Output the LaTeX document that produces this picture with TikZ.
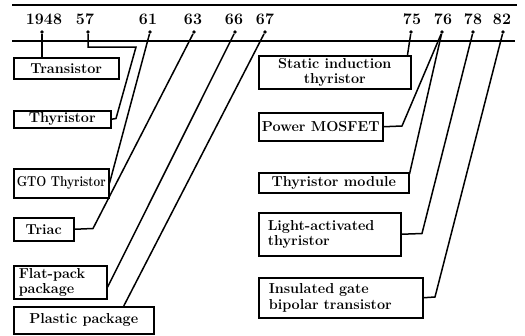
\documentclass[tikz,border=0pt]{standalone}
\usepackage{fontspec}
\usepackage{tikz}
\usetikzlibrary{positioning}

\tikzset{
	box/.style={draw, line width=1.5pt, anchor=north west, inner sep=1pt,
		font=\fontsize{14.4}{15.5}\selectfont\bfseries},
	yearlbl/.style={font=\fontsize{16}{18}\selectfont\bfseries},
	dot/.style={circle, fill, inner sep=1.3pt},
	link/.style={line width=1.5pt}
}

\begin{document}
\begin{tikzpicture}[x=1pt,y=-1pt]
	\useasboundingbox (0,0) rectangle (525,335);
	% rule at the top and time axis
	\coordinate (rl) at (12,5);
	\coordinate (rr) at (517,5);
	\coordinate (al) at (12,41);
	\coordinate (ar) at (515,41);
	\draw[link] (rl) -- (rr);
	\draw[link] (al) -- (ar);

	% years
	\node[yearlbl] (y48) at (44,19) {1948};
	\node[yearlbl] (y57) at (85,19) {57};
	\node[yearlbl] (y61) at (148,19) {61};
	\node[yearlbl] (y63) at (193,19) {63};
	\node[yearlbl] (y66) at (234,19) {66};
	\node[yearlbl] (y67) at (265,19) {67};
	\node[yearlbl] (y75) at (412,19) {75};
	\node[yearlbl] (y76) at (443,19) {76};
	\node[yearlbl] (y78) at (473,19) {78};
	\node[yearlbl] (y82) at (502,19) {82};

	\node[dot] (d48) at (42,32) {};
	\node[dot] (d57) at (88,32) {};
	\node[dot] (d61) at (150,32) {};
	\node[dot] (d63) at (194,32) {};
	\node[dot] (d66) at (235,32) {};
	\node[dot] (d67) at (265,32) {};
	\node[dot] (d75) at (411,32) {};
	\node[dot] (d76) at (442,32) {};
	\node[dot] (d78) at (473,32) {};
	\node[dot] (d82) at (503,32) {};

	% devices
	\node[box, minimum width=105pt, minimum height=21pt] (transistor) at (13,57) {Transistor};
	\node[box, minimum width=97pt, minimum height=17pt] (thyristor) at (13,110) {Thyristor};
	\node[box, minimum width=95pt, minimum height=29pt, inner xsep=0.5pt] (gto) at (13,168) {\scalebox{0.82}[1]{GTO Thyristor}};
	\node[box, minimum width=60pt, minimum height=23pt] (triac) at (13,217) {Triac};
	\node[box, minimum width=93pt, minimum height=33pt, inner xsep=5pt, text width=83pt, align=left] (flat) at (13,265) {Flat-pack\\package};
	\node[box, minimum width=140pt, minimum height=27pt] (plastic) at (13,306) {Plastic package};

	\node[box, minimum width=152pt, minimum height=33pt, align=center] (sit) at (258,55) {Static induction\\thyristor};
	\node[box, minimum width=124pt, minimum height=28pt] (mosfet) at (258,112) {Power MOSFET};
	\node[box, minimum width=150pt, minimum height=20pt] (module) at (258,172) {Thyristor module};
	\node[box, minimum width=142pt, minimum height=43pt, inner xsep=9pt, text width=124pt, align=left] (light) at (258,212) {Light-activated\\thyristor};
	\node[box, minimum width=164pt, minimum height=40pt, inner xsep=10pt, text width=144pt, align=left] (igbt) at (258,277) {Insulated gate\\bipolar transistor};

	% bends of the connectors
	\coordinate (k57a) at (136,47);
	\coordinate (k57b) at (116,118.5);
	\coordinate (k63) at (93,228.5);
	\coordinate (k76) at (402,126);
	\coordinate (k78) at (422,233.5);
	\coordinate (k82) at (435,297);

	\draw[link] (d48) -- (d48 |- transistor.north);
	\draw[link] (d57) |- (k57a) -- (k57b) -- (thyristor.east);
	\draw[link] (d61) -- (gto.east);
	\draw[link] (d63) -- (k63) -- (triac.east);
	\draw[link] (d66) -- ([yshift=-5pt]flat.east);
	\draw[link] (d67) -- ([xshift=40pt]plastic.north);
	\draw[link] (d75) -- ([xshift=-4pt]sit.north east);
	\draw[link] (d76) -- (k76) -- (mosfet.east);
	\draw[link] (d76) -- ([yshift=-2pt]module.north east);
	\draw[link] (d78) -- (k78) -- (light.east);
	\draw[link] (d82) -- (k82) -- (igbt.east);
\end{tikzpicture}
\end{document}
